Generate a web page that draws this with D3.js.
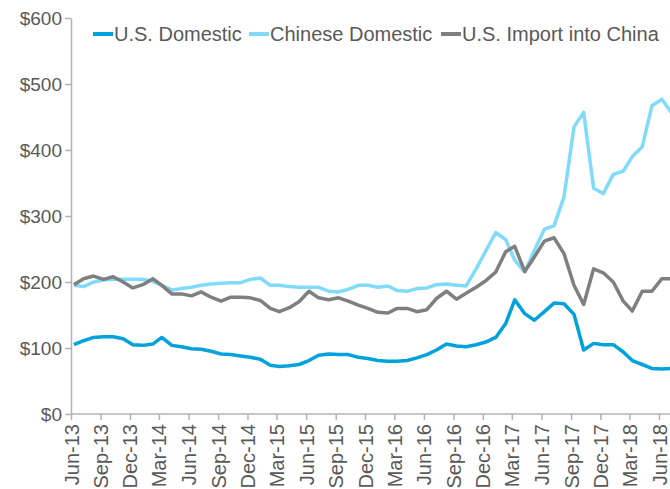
<!DOCTYPE html>
<html>
<head>
<meta charset="utf-8">
<script src="https://cdn.jsdelivr.net/npm/d3@7"></script>
<style>
  body { margin: 0; background: #fff; }
  svg { display: block; font-family: "Liberation Sans", Arial, sans-serif; }
  .axis path, .axis line { stroke: #b3b3b3; stroke-width: 1.5; }
  .axis text { fill: #595959; font-size: 19px; }
  .x.axis text { font-size: 20px; }
</style>
</head>
<body>
<svg id="chart" width="670" height="489"></svg>
<script>
// monthly series, Jun-13 .. Jul-18
const startMonth = "2013-06";
const usDomestic = [105, 111, 116, 117, 117, 114, 105, 104, 106, 116, 104, 102, 99, 98, 95, 91, 90, 88, 86, 83,
  74, 72, 73, 75, 81, 89, 91, 90, 90, 86, 84, 81, 80, 80, 81, 85, 90, 97, 106, 103,
  102, 105, 109, 116, 137, 173, 152, 142, 155, 168, 167, 151, 97, 107, 105, 105, 94, 81, 75, 69,
  68, 69];
const chineseDomestic = [195, 193, 200, 203, 204, 204, 204, 204, 201, 195, 188, 190, 192, 195, 197, 198, 199, 199, 204, 206,
  195, 195, 193, 192, 192, 192, 186, 185, 189, 195, 195, 192, 194, 187, 186, 190, 191, 196, 197, 195,
  194, 220, 247, 275, 264, 233, 215, 248, 280, 285, 329, 435, 457, 342, 334, 363, 368, 390, 405, 467,
  477, 456];
const usImportChina = [196, 205, 209, 204, 208, 200, 191, 196, 205, 195, 182, 182, 179, 185, 177, 171, 177, 177, 176, 172,
  160, 155, 161, 170, 186, 176, 173, 176, 171, 165, 160, 154, 153, 160, 160, 155, 158, 175, 186, 174,
  183, 192, 202, 215, 246, 254, 216, 238, 262, 267, 243, 195, 166, 220, 214, 200, 171, 156, 186, 186,
  205, 205];
const seriesNames = ["U.S. Domestic", "Chinese Domestic", "U.S. Import into China"];
const seriesColors = ["#00a2dc", "#80dbfa", "#7f7f7f"];
const yTicks = [0, 100, 200, 300, 400, 500, 600];

const svg = d3.select("#chart");
const start = d3.timeParse("%Y-%m")(startMonth);
const months = usDomestic.map((_, i) => d3.timeMonth.offset(start, i));
const tickDates = d3.range(0, 61, 3).map(i => d3.timeMonth.offset(start, i));

const x = d3.scaleTime()
  .domain([start, d3.timeMonth.offset(start, 60)])
  .range([71, 659]);
const y = d3.scaleLinear().domain([0, 600]).range([414, 18]);

// axes
const xAxis = svg.append("g")
  .attr("class", "x axis")
  .attr("transform", "translate(0,414)")
  .call(d3.axisBottom(x).tickValues(tickDates).tickFormat(d3.timeFormat("%b-%y")).tickSize(6).tickSizeOuter(0));
xAxis.select(".domain").attr("d", "M71,0H670");
xAxis.selectAll("text")
  .attr("transform", "rotate(-90)")
  .attr("x", -10)
  .attr("y", 0)
  .attr("dy", "0.35em")
  .style("text-anchor", "end");

svg.append("g")
  .attr("class", "y axis")
  .attr("transform", "translate(71,0)")
  .call(d3.axisLeft(y).tickValues(yTicks).tickFormat(d => "$" + d).tickSize(6).tickSizeOuter(0).tickPadding(3));

// lines
const line = d3.line()
  .x((d, i) => x(d3.timeDay.offset(months[i], 9)))
  .y(d => y(d));

[usDomestic, chineseDomestic, usImportChina].forEach((vals, k) => {
  svg.append("path")
    .datum(vals)
    .attr("fill", "none")
    .attr("stroke", seriesColors[k])
    .attr("stroke-width", 3.5)
    .attr("stroke-linejoin", "round")
    .attr("d", line);
});

// legend
const legendX = [93, 249, 441];
const legend = svg.append("g").attr("class", "legend");
seriesNames.forEach((name, k) => {
  legend.append("line")
    .attr("x1", legendX[k]).attr("x2", legendX[k] + 20)
    .attr("y1", 34).attr("y2", 34)
    .attr("stroke", seriesColors[k])
    .attr("stroke-width", 4);
  legend.append("text")
    .attr("x", legendX[k] + 21)
    .attr("y", 34)
    .attr("dy", "0.35em")
    .attr("fill", "#595959")
    .style("font-size", "20px")
    .text(name);
});
</script>
</body>
</html>
